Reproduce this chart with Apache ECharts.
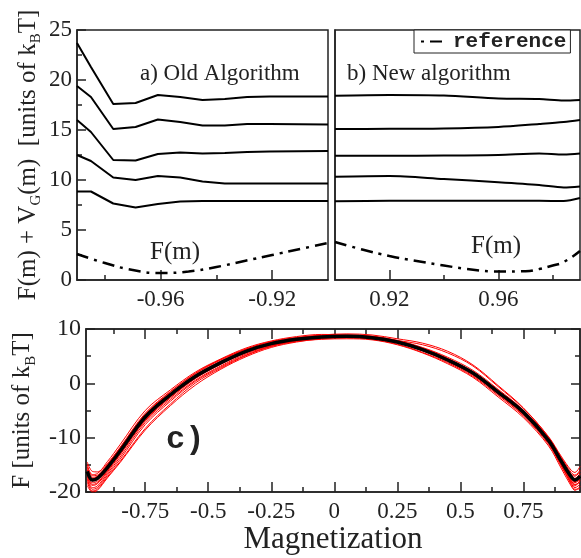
<!DOCTYPE html>
<html>
<head>
<meta charset="utf-8">
<script src="https://cdn.jsdelivr.net/npm/echarts@6/dist/echarts.min.js"></script>
<style>
  html, body { margin: 0; padding: 0; background: #fff; }
  #main { width: 581px; height: 558px; }
</style>
</head>
<body>
<div id="main"></div>
<script>
// panel a) old algorithm, m near -1
var xOld = [-0.99, -0.985, -0.977, -0.969, -0.961, -0.953, -0.945, -0.937, -0.929, -0.921, -0.90];
var oldLines = [
  [23.7, 21.3, 17.6, 17.7, 18.5, 18.3, 18.0, 18.1, 18.3, 18.35, 18.35],
  [19.4, 18.3, 15.1, 15.3, 16.05, 15.8, 15.45, 15.45, 15.6, 15.6, 15.55],
  [16.0, 14.8, 12.0, 11.95, 12.6, 12.75, 12.65, 12.7, 12.8, 12.85, 12.9],
  [12.5, 11.9, 10.25, 10.0, 10.4, 10.25, 9.85, 9.65, 9.65, 9.65, 9.65],
  [8.85, 8.85, 7.65, 7.25, 7.6, 7.85, 7.9, 7.9, 7.9, 7.9, 7.9]
];
var xRefOld = [-0.99, -0.98, -0.97, -0.96, -0.95, -0.94, -0.93, -0.92, -0.91, -0.90];
var refOld = [2.6, 1.7, 1.0, 0.7, 0.85, 1.3, 1.9, 2.5, 3.1, 3.7];

// panel b) new algorithm, m near +1
var xNew = [0.90, 0.92, 0.94, 0.96, 0.975, 0.984, 0.99];
var newLines = [
  [18.43, 18.5, 18.45, 18.15, 18.1, 17.95, 18.0],
  [15.1, 15.12, 15.15, 15.3, 15.6, 15.8, 16.0],
  [12.43, 12.42, 12.45, 12.5, 12.65, 12.55, 12.65],
  [10.33, 10.4, 10.1, 9.78, 9.5, 9.25, 9.35],
  [7.87, 7.92, 7.93, 7.92, 7.92, 7.9, 8.2]
];
var xRefNew = [0.90, 0.91, 0.92, 0.93, 0.94, 0.95, 0.96, 0.97, 0.975, 0.98, 0.984, 0.99];
var refNew = [3.8, 3.05, 2.4, 1.9, 1.45, 1.05, 0.85, 0.88, 1.1, 1.45, 1.8, 2.9];

// panel c) full free energy profile
var xMag = [-0.98, -0.96, -0.94, -0.9, -0.85, -0.75, -0.65, -0.55, -0.45, -0.35, -0.25, -0.15, -0.05,
            0.05, 0.15, 0.25, 0.35, 0.45, 0.55, 0.65, 0.75, 0.85, 0.9, 0.94, 0.955, 0.975];
var blackF = [-16.2, -17.8, -17.5, -15.5, -12.5, -6.2, -2.1, 1.3, 3.8, 5.9, 7.3, 8.1, 8.55,
              8.65, 8.4, 7.6, 6.2, 4.3, 1.9, -1.6, -5.3, -10.5, -14.3, -17.2, -17.8, -17.1];
var redF = [
  [-15.0, -16.8, -16.6, -14.8, -11.8, -5.5, -1.5, 1.8, 4.3, 6.3, 7.7, 8.4, 8.8, 8.9, 8.7, 7.9, 6.6, 4.8, 2.4, -1.1, -4.9, -10.0, -13.6, -16.4, -16.9, -16.0],
  [-17.5, -19.2, -18.9, -16.6, -13.6, -7.2, -3.0, 0.6, 3.2, 5.4, 6.9, 7.8, 8.3, 8.4, 8.1, 7.2, 5.7, 3.8, 1.3, -2.2, -6.0, -11.2, -15.2, -18.4, -19.2, -18.6],
  [-14.5, -16.2, -16.3, -14.4, -11.3, -5.0, -1.2, 2.1, 4.5, 6.5, 7.8, 8.6, 9.0, 8.9, 8.6, 7.9, 7.1, 5.6, 3.2, -0.6, -4.6, -9.8, -13.4, -16.0, -16.4, -15.3],
  [-18.2, -19.8, -19.5, -17.2, -14.4, -8.3, -3.8, 0.1, 2.8, 5.1, 6.8, 7.7, 8.1, 8.2, 8.0, 7.1, 5.6, 3.6, 1.1, -2.5, -6.3, -11.5, -15.6, -18.9, -19.7, -19.0],
  [-16.8, -18.3, -18.0, -15.9, -12.7, -6.6, -2.4, 1.0, 3.6, 5.7, 7.2, 8.0, 8.6, 8.8, 8.6, 7.8, 6.5, 4.6, 2.1, -1.3, -5.1, -10.2, -14.0, -17.5, -18.1, -17.3],
  [-15.6, -17.3, -17.1, -15.1, -12.0, -5.8, -1.8, 1.6, 4.0, 6.1, 7.5, 8.3, 8.6, 8.5, 8.2, 7.4, 6.0, 4.1, 1.7, -1.9, -5.6, -10.8, -14.7, -17.7, -18.3, -17.6],
  [-17.2, -18.8, -18.5, -16.3, -13.2, -6.9, -2.7, 0.9, 3.5, 5.6, 7.0, 7.9, 8.5, 8.7, 8.5, 7.7, 6.3, 4.4, 2.0, -1.5, -5.2, -10.6, -14.5, -17.9, -18.6, -18.2],
  [-16.0, -17.5, -17.3, -15.3, -12.2, -6.0, -1.9, 1.5, 4.1, 6.2, 7.4, 8.2, 8.7, 8.8, 8.5, 7.7, 6.4, 4.5, 2.1, -1.4, -5.0, -10.3, -14.1, -17.0, -17.5, -16.6],
  [-18.8, -20.0, -19.7, -17.4, -14.6, -8.6, -4.1, -0.3, 2.6, 4.9, 6.6, 7.6, 8.2, 8.4, 8.2, 7.5, 6.1, 4.2, 1.8, -1.7, -5.5, -10.9, -15.0, -18.6, -19.5, -19.4],
  [-15.3, -17.0, -16.9, -14.9, -11.9, -5.7, -1.6, 1.9, 4.4, 6.3, 7.6, 8.4, 8.9, 9.1, 8.9, 8.2, 7.4, 5.9, 3.4, -0.4, -4.5, -9.9, -13.8, -16.7, -17.1, -16.2],
  [-17.8, -19.5, -19.2, -16.9, -14.0, -7.6, -3.3, 0.4, 3.0, 5.2, 6.8, 7.8, 8.4, 8.6, 8.3, 7.5, 6.0, 4.0, 1.5, -2.0, -5.8, -11.0, -14.9, -18.2, -18.9, -17.8],
  [-16.5, -18.0, -17.7, -15.6, -12.4, -6.3, -2.3, 1.1, 3.7, 5.8, 7.3, 8.2, 8.6, 8.6, 8.3, 7.5, 6.1, 4.2, 1.8, -1.8, -5.4, -10.6, -14.4, -17.4, -18.0, -17.4],
  [-15.9, -17.6, -17.2, -15.2, -12.1, -5.9, -2.0, 1.4, 3.9, 6.0, 7.4, 8.1, 8.4, 8.5, 8.3, 7.6, 6.3, 4.4, 2.0, -1.5, -5.1, -10.4, -14.2, -17.1, -17.6, -16.8],
  [-17.0, -18.6, -18.3, -16.1, -13.0, -6.7, -2.5, 1.0, 3.6, 5.7, 7.1, 8.0, 8.5, 8.6, 8.4, 7.6, 6.2, 4.3, 1.9, -1.7, -5.5, -10.7, -14.6, -18.0, -18.7, -18.0]
];

// tick labels
var ticksOld = [-0.96, -0.92];
var minorOld = [-0.98, -0.94];
var ticksNew = [0.92, 0.96];
var minorNew = [0.94, 0.98];
var ticksMag = [-0.75, -0.5, -0.25, 0, 0.25, 0.5, 0.75];
var minorMag = [-0.875, -0.625, -0.375, -0.125, 0.125, 0.375, 0.625, 0.875];

var serif = 'Liberation Serif';
var axisColor = '#222';

function pairs(xs, ys) {
  var out = [];
  for (var i = 0; i < xs.length; i++) {
    out.push([xs[i], ys[i]]);
  }
  return out;
}

var chart = echarts.init(document.getElementById('main'));

var nameRich = {
  m: { fontFamily: serif, fontSize: 25, color: '#222', verticalAlign: 'top' },
  s: { fontFamily: serif, fontSize: 15, color: '#222', verticalAlign: 'top', padding: [13, 0, 0, 0] }
};

function xMajor(grid, min, max, values, pos, showLabel) {
  return {
    type: 'value', gridIndex: grid, min: min, max: max, position: pos || 'bottom',
    splitLine: { show: false },
    axisLine: { show: true, onZero: false, lineStyle: { color: axisColor, width: 1.5 } },
    axisTick: { inside: true, length: 10, customValues: values, lineStyle: { color: axisColor, width: 1.5 } },
    axisLabel: { show: showLabel !== false, customValues: values, margin: 8, fontFamily: serif, fontSize: 23, color: '#222' }
  };
}

function xMinor(grid, min, max, values, pos) {
  return {
    type: 'value', gridIndex: grid, min: min, max: max, position: pos || 'bottom',
    splitLine: { show: false },
    axisLine: { show: false, onZero: false },
    axisTick: { inside: true, length: 5, customValues: values, lineStyle: { color: axisColor, width: 1.5 } },
    axisLabel: { show: false, customValues: values }
  };
}

var series = [];
for (var i = 0; i < oldLines.length; i++) {
  series.push({
    type: 'line', xAxisIndex: 0, yAxisIndex: 0, symbol: 'none',
    data: pairs(xOld, oldLines[i]), lineStyle: { color: '#000', width: 2 }, silent: true
  });
}
series.push({
  name: 'reference', type: 'line', xAxisIndex: 0, yAxisIndex: 0, symbol: 'none', smooth: true,
  data: pairs(xRefOld, refOld), itemStyle: { color: '#000' },
  lineStyle: { color: '#000', width: 2.5, type: [12, 6, 3, 6] }
});
for (var j = 0; j < newLines.length; j++) {
  series.push({
    type: 'line', xAxisIndex: 2, yAxisIndex: 1, symbol: 'none', smooth: 0.3,
    data: pairs(xNew, newLines[j]), lineStyle: { color: '#000', width: 2 }, silent: true
  });
}
series.push({
  name: 'reference', type: 'line', xAxisIndex: 2, yAxisIndex: 1, symbol: 'none', smooth: true,
  data: pairs(xRefNew, refNew), itemStyle: { color: '#000' },
  lineStyle: { color: '#000', width: 2.5, type: [12, 6, 3, 6] }
});
for (var k = 0; k < redF.length; k++) {
  series.push({
    type: 'line', xAxisIndex: 4, yAxisIndex: 2, symbol: 'none', smooth: 0.35,
    data: pairs(xMag, redF[k]), lineStyle: { color: '#ff0000', width: 1 }, silent: true
  });
}
series.push({
  type: 'line', xAxisIndex: 4, yAxisIndex: 2, symbol: 'none', smooth: 0.35,
  data: pairs(xMag, blackF), lineStyle: { color: '#000', width: 3.5 }, silent: true
});

var option = {
  backgroundColor: '#fff',
  animation: false,
  grid: [
    { left: 77, top: 30, width: 251, height: 250, show: true, borderColor: axisColor, borderWidth: 1.5 },
    { left: 335, top: 30, width: 245, height: 250, show: true, borderColor: axisColor, borderWidth: 1.5 },
    { left: 86, top: 329, width: 494, height: 163, show: true, borderColor: axisColor, borderWidth: 1.5 }
  ],
  legend: {
    data: ['reference'],
    left: 414, top: 30,
    padding: [1, 4, 1, 3],
    itemWidth: 30, itemHeight: 14, itemGap: 4,
    borderColor: '#222', borderWidth: 1,
    backgroundColor: '#fff',
    selectedMode: false,
    itemStyle: { color: 'rgba(0,0,0,0)', borderWidth: 0, opacity: 0 },
    lineStyle: { dashOffset: 15 },
    textStyle: { fontFamily: 'Liberation Mono', fontWeight: 'bold', fontSize: 21, color: '#222' }
  },
  xAxis: [
    xMajor(0, -0.99, -0.90, ticksOld),
    xMinor(0, -0.99, -0.90, minorOld),
    xMajor(1, 0.90, 0.99, ticksNew),
    xMinor(1, 0.90, 0.99, minorNew),
    Object.assign(xMajor(2, -0.985, 0.975, ticksMag), {
      name: 'Magnetization', nameLocation: 'middle', nameGap: 29,
      nameTextStyle: { fontFamily: serif, fontSize: 31, color: '#222' }
    }),
    xMinor(2, -0.985, 0.975, minorMag),
    xMajor(2, -0.985, 0.975, ticksMag, 'top', false),
    xMinor(2, -0.985, 0.975, minorMag, 'top')
  ],
  yAxis: [
    {
      type: 'value', gridIndex: 0, min: 0, max: 25, interval: 5,
      name: '{m|F(m) + V}{s|G}{m|(m)  [units of k}{s|B}{m|T]}',
      nameLocation: 'middle', nameGap: 33,
      nameTextStyle: { rich: nameRich },
      splitLine: { show: false },
      axisLine: { show: true, onZero: false, lineStyle: { color: axisColor, width: 1.5 } },
      axisTick: { inside: true, length: 9, lineStyle: { color: axisColor, width: 1.5 } },
      minorTick: { show: true, splitNumber: 2, length: 5, lineStyle: { color: axisColor, width: 1.5 } },
      axisLabel: { margin: 5, fontFamily: serif, fontSize: 23, color: '#222' }
    },
    {
      type: 'value', gridIndex: 1, min: 0, max: 25, interval: 5,
      splitLine: { show: false },
      axisLine: { show: true, onZero: false, lineStyle: { color: axisColor, width: 1.5 } },
      axisTick: { show: false },
      axisLabel: { show: false }
    },
    {
      type: 'value', gridIndex: 2, min: -20, max: 10, interval: 10,
      name: '{m|F [units of k}{s|B}{m|T]}',
      nameLocation: 'middle', nameGap: 42,
      nameTextStyle: { rich: nameRich },
      splitLine: { show: false },
      axisLine: { show: true, onZero: false, lineStyle: { color: axisColor, width: 1.5 } },
      axisTick: { inside: true, length: 9, lineStyle: { color: axisColor, width: 1.5 } },
      minorTick: { show: true, splitNumber: 2, length: 5, lineStyle: { color: axisColor, width: 1.5 } },
      axisLabel: { margin: 5, fontFamily: serif, fontSize: 24, color: '#222' }
    },
    {
      type: 'value', gridIndex: 2, min: -20, max: 10, interval: 10, position: 'right',
      splitLine: { show: false },
      axisLine: { show: true, onZero: false, lineStyle: { color: axisColor, width: 1.5 } },
      axisTick: { inside: true, length: 9, lineStyle: { color: axisColor, width: 1.5 } },
      minorTick: { show: true, splitNumber: 2, length: 5, lineStyle: { color: axisColor, width: 1.5 } },
      axisLabel: { show: false }
    }
  ],
  graphic: [
    { type: 'text', left: 140, top: 62, style: { text: 'a) Old Algorithm', font: '23px "Liberation Serif"', fill: '#222' } },
    { type: 'text', left: 347, top: 62, style: { text: 'b) New algorithm', font: '23px "Liberation Serif"', fill: '#222' } },
    { type: 'text', left: 150, top: 240, style: { text: 'F(m)', font: '25px "Liberation Serif"', fill: '#222' } },
    { type: 'text', left: 471, top: 234, style: { text: 'F(m)', font: '25px "Liberation Serif"', fill: '#222' } },
    { type: 'text', left: 166, top: 424, style: { text: 'c)', font: 'bold 32px "Liberation Mono"', fill: '#222' } }
  ],
  series: series
};

chart.setOption(option);
</script>
</body>
</html>
